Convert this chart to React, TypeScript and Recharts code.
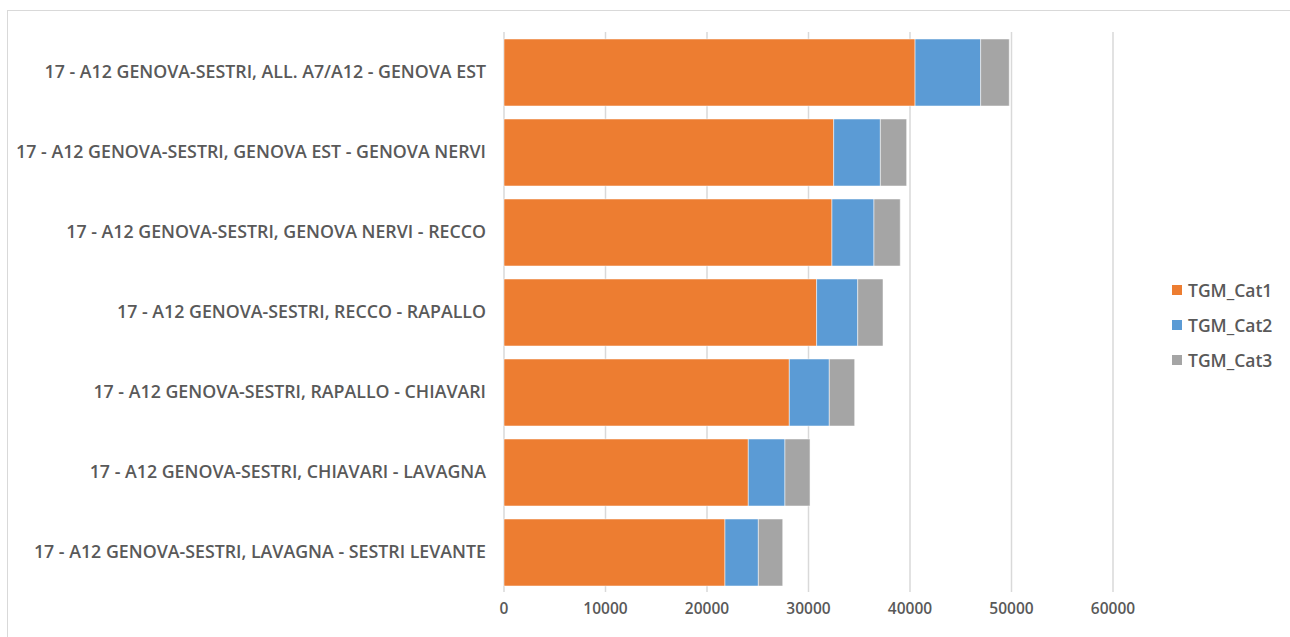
import { BarChart, Bar, XAxis, YAxis, CartesianGrid } from 'recharts';

// tratte autostradali (dall'alto verso il basso)
const tratte = [
  '17 - A12 GENOVA-SESTRI, ALL. A7/A12 - GENOVA EST',
  '17 - A12 GENOVA-SESTRI, GENOVA EST - GENOVA NERVI',
  '17 - A12 GENOVA-SESTRI, GENOVA NERVI - RECCO',
  '17 - A12 GENOVA-SESTRI, RECCO - RAPALLO',
  '17 - A12 GENOVA-SESTRI, RAPALLO - CHIAVARI',
  '17 - A12 GENOVA-SESTRI, CHIAVARI - LAVAGNA',
  '17 - A12 GENOVA-SESTRI, LAVAGNA - SESTRI LEVANTE',
];

const tgmCat1 = [40500, 32480, 32310, 30800, 28110, 24070, 21770];
const tgmCat2 = [6460, 4600, 4140, 4050, 3940, 3610, 3290];
const tgmCat3 = [2820, 2590, 2590, 2490, 2500, 2470, 2400];

const xTicks = [0, 10000, 20000, 30000, 40000, 50000, 60000];

const series = [
  { key: 'TGM_Cat1', color: '#ed7d31' },
  { key: 'TGM_Cat2', color: '#5b9bd5' },
  { key: 'TGM_Cat3', color: '#a5a5a5' },
];

const data = tratte.map((name, i) => ({
  name,
  TGM_Cat1: tgmCat1[i],
  TGM_Cat2: tgmCat2[i],
  TGM_Cat3: tgmCat3[i],
}));

const FONT = '"Open Sans", sans-serif';
const TEXT = '#595959';

// legenda a destra, fuori dal calcolo dei margini del grafico
function LegendBox() {
  return (
    <div style={{ position: 'absolute', left: 1164, top: 261, fontFamily: FONT, fontSize: 17.5, fontWeight: 600, color: TEXT }}>
      {series.map(s => (
        <div key={s.key} style={{ display: 'flex', alignItems: 'center', height: 35 }}>
          <span style={{ width: 10, height: 10, background: s.color, marginRight: 6, display: 'inline-block' }} />
          {s.key}
        </div>
      ))}
    </div>
  );
}

export default function App() {
  return (
    <div style={{ position: 'absolute', left: 7, top: 10, width: 1290, height: 640, border: '1px solid #d9d9d9', background: '#fff' }}>
      <BarChart
        width={1282}
        height={630}
        data={data}
        layout="vertical"
        margin={{ top: 21, right: 177, bottom: 19, left: 0 }}
      >
        <CartesianGrid horizontal={false} stroke="#d9d9d9" strokeWidth={1.5} />
        <XAxis
          type="number"
          domain={[0, 60000]}
          ticks={xTicks}
          axisLine={false}
          tickLine={false}
          tickMargin={5}
          height={30}
          tick={{ fill: TEXT, fontFamily: FONT, fontSize: 15.5, fontWeight: 600 }}
        />
        <YAxis
          type="category"
          dataKey="name"
          width={496}
          axisLine={false}
          tickLine={false}
          tickMargin={12}
          tick={{ fill: TEXT, fontFamily: FONT, fontSize: 17.8, fontWeight: 600 }}
        />
        {series.map(s => (
          <Bar
            key={s.key}
            dataKey={s.key}
            stackId="tgm"
            fill={s.color}
            barSize={67}
            stroke="#ffffff"
            strokeOpacity={0.5}
            isAnimationActive={false}
          />
        ))}
      </BarChart>
      <LegendBox />
    </div>
  );
}
